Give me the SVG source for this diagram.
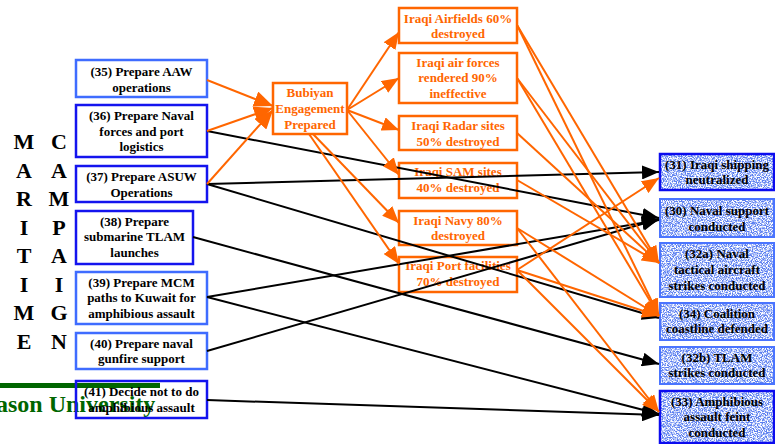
<svg xmlns="http://www.w3.org/2000/svg" width="775" height="444" viewBox="0 0 775 444">
<style>
  text { font-family: "Liberation Serif", "Times New Roman", serif; font-weight: bold; }
  .t { font-size: 13px; text-anchor: middle; fill: #000; }
  .ot { font-size: 13px; text-anchor: middle; fill: #ff6600; }
  .big { font-size: 22px; text-anchor: middle; fill: #000; }
  .lb1 { fill: none; stroke: #3f6cff; stroke-width: 2.5; }
  .lb2 { fill: none; stroke: #1414ee; stroke-width: 2.5; }
  .ob { fill: none; stroke: #ff6600; stroke-width: 2.5; }
  .rb1 { fill: none; stroke: #4a74ff; stroke-width: 2; }
  .rb2 { fill: none; stroke: #0c0cee; stroke-width: 2.5; }
  .rbase { fill: #5a7ef0; }
  .sp { filter: url(#speckle); }
  .bl { fill: none; stroke: #000; stroke-width: 2; marker-end: url(#ab); }
  .or { fill: none; stroke: #ff6600; stroke-width: 2; marker-end: url(#ao); }
  .orb { fill: none; stroke: #ff6600; stroke-width: 2; marker-end: url(#aob); }
</style>
<defs>
  <marker id="ab" markerUnits="userSpaceOnUse" markerWidth="18" markerHeight="14" refX="17" refY="7" orient="auto">
    <path d="M0,0 L17,7 L0,14 z" fill="#000"/>
  </marker>
  <marker id="ao" markerUnits="userSpaceOnUse" markerWidth="18" markerHeight="14" refX="17" refY="7" orient="auto">
    <path d="M0,0 L17,7 L0,14 z" fill="#ff6600"/>
  </marker>
  <marker id="aob" markerUnits="userSpaceOnUse" markerWidth="20" markerHeight="16" refX="19" refY="8" orient="auto">
    <path d="M0,0 L19,8 L0,16 z" fill="#ff6600"/>
  </marker>
  <filter id="speckle" x="0" y="0" width="1" height="1" color-interpolation-filters="sRGB">
    <feTurbulence type="fractalNoise" baseFrequency="0.8" numOctaves="2" seed="7"/>
    <feColorMatrix type="matrix" values="0 0 0 0 1  0 0 0 0 1  0 0 0 0 1  4 0 0 0 -1.5"/>
  </filter>
</defs>

<!-- background branding -->
<rect x="0" y="383" width="160" height="5" fill="#006600"/>
<text x="-4" y="412" style="font-size:24px;fill:#006600">ason University</text>

<!-- side letters -->
<g id="maritime">
  <text class="big" x="24" y="149">M</text>
  <text class="big" x="24" y="178">A</text>
  <text class="big" x="24" y="206">R</text>
  <text class="big" x="24" y="235">I</text>
  <text class="big" x="24" y="263">T</text>
  <text class="big" x="24" y="292">I</text>
  <text class="big" x="24" y="320">M</text>
  <text class="big" x="24" y="349">E</text>
</g>
<g id="campaign">
  <text class="big" x="59" y="149">C</text>
  <text class="big" x="59" y="178">A</text>
  <text class="big" x="59" y="206">M</text>
  <text class="big" x="59" y="235">P</text>
  <text class="big" x="59" y="263">A</text>
  <text class="big" x="59" y="292">I</text>
  <text class="big" x="59" y="320">G</text>
  <text class="big" x="59" y="349">N</text>
</g>

<!-- left column -->
<g id="n35"><rect class="lb1" x="76" y="60" width="131" height="37"/>
  <text class="t" x="141.5" y="76">(35) Prepare AAW</text><text class="t" x="141.5" y="91.5">operations</text></g>
<g id="n36"><rect class="lb2" x="76" y="105" width="131" height="52"/>
  <text class="t" x="141.5" y="120">(36) Prepare Naval</text><text class="t" x="141.5" y="135.5">forces and port</text><text class="t" x="141.5" y="151">logistics</text></g>
<g id="n37"><rect class="lb2" x="76" y="166" width="131" height="36"/>
  <text class="t" x="141.5" y="181">(37) Prepare ASUW</text><text class="t" x="141.5" y="196.5">Operations</text></g>
<g id="n38"><rect class="lb2" x="76" y="211" width="117" height="53"/>
  <text class="t" x="134.5" y="226">(38) Prepare</text><text class="t" x="134.5" y="241">submarine TLAM</text><text class="t" x="134.5" y="256.5">launches</text></g>
<g id="n39"><rect class="lb1" x="76" y="272" width="131" height="52"/>
  <text class="t" x="141.5" y="286.5">(39) Prepare MCM</text><text class="t" x="141.5" y="302">paths to Kuwait for</text><text class="t" x="141.5" y="317.5">amphibious assault</text></g>
<g id="n40"><rect class="lb1" x="76" y="333" width="131" height="36"/>
  <text class="t" x="141.5" y="347.5">(40) Prepare naval</text><text class="t" x="141.5" y="363">gunfire support</text></g>
<g id="n41"><rect class="lb2" x="76" y="381" width="131" height="37"/>
  <text class="t" x="141.5" y="396">(41) Decide not to do</text><text class="t" x="141.5" y="411.5">amphibious assault</text></g>

<!-- middle -->
<g id="bubiyan"><rect class="ob" x="273" y="83" width="74" height="51"/>
  <text class="ot" x="310" y="97">Bubiyan</text><text class="ot" x="310" y="113">Engagement</text><text class="ot" x="310" y="128.5">Prepared</text></g>

<g id="airfields"><rect class="ob" x="399" y="8" width="118" height="35"/>
  <text class="ot" x="458" y="22.5">Iraqi Airfields 60%</text><text class="ot" x="458" y="38">destroyed</text></g>
<g id="airforces"><rect class="ob" x="399" y="53" width="118" height="50"/>
  <text class="ot" x="458" y="66.5">Iraqi air forces</text><text class="ot" x="458" y="82">rendered 90%</text><text class="ot" x="458" y="97.5">ineffective</text></g>
<g id="radar"><rect class="ob" x="399" y="116" width="118" height="34"/>
  <text class="ot" x="458" y="130">Iraqi Radar sites</text><text class="ot" x="458" y="145.5">50% destroyed</text></g>
<g id="sam"><rect class="ob" x="399" y="163" width="118" height="35"/>
  <text class="ot" x="458" y="176">Iraqi SAM sites</text><text class="ot" x="458" y="192">40% destroyed</text></g>
<g id="navy"><rect class="ob" x="399" y="211" width="118" height="34"/>
  <text class="ot" x="458" y="224.5">Iraqi Navy 80%</text><text class="ot" x="458" y="240">destroyed</text></g>
<g id="port"><rect class="ob" x="399" y="257" width="118" height="35"/>
  <text class="ot" x="458" y="270">Iraqi Port facilities</text><text class="ot" x="458" y="285.5">70% destroyed</text></g>

<!-- right column -->
<g id="n31"><rect class="rbase" x="660" y="154" width="114" height="36"/><rect class="sp" x="660" y="154" width="114" height="36"/><rect class="rb2" x="660" y="154" width="114" height="36"/>
  <text class="t" x="717" y="168.5">(31) Iraqi shipping</text><text class="t" x="717" y="184">neutralized</text></g>
<g id="n30"><rect class="rbase" x="660" y="199" width="114" height="38"/><rect class="sp" x="660" y="199" width="114" height="38"/><rect class="rb1" x="660" y="199" width="114" height="38"/>
  <text class="t" x="717" y="214.5">(30) Naval support</text><text class="t" x="717" y="230.5">conducted</text></g>
<g id="n32a"><rect class="rbase" x="660" y="243" width="114" height="54"/><rect class="sp" x="660" y="243" width="114" height="54"/><rect class="rb1" x="660" y="243" width="114" height="54"/>
  <text class="t" x="717" y="258">(32a) Naval</text><text class="t" x="717" y="273.5">tactical aircraft</text><text class="t" x="717" y="289.5">strikes conducted</text></g>
<g id="n34"><rect class="rbase" x="660" y="303" width="114" height="37"/><rect class="sp" x="660" y="303" width="114" height="37"/><rect class="rb1" x="660" y="303" width="114" height="37"/>
  <text class="t" x="717" y="317.5">(34) Coalition</text><text class="t" x="717" y="333">coastline defended</text></g>
<g id="n32b"><rect class="rbase" x="660" y="347" width="114" height="37"/><rect class="sp" x="660" y="347" width="114" height="37"/><rect class="rb1" x="660" y="347" width="114" height="37"/>
  <text class="t" x="717" y="361.5">(32b) TLAM</text><text class="t" x="717" y="377">strikes conducted</text></g>
<g id="n33"><rect class="rbase" x="660" y="391" width="114" height="52"/><rect class="sp" x="660" y="391" width="114" height="52"/><rect class="rb2" x="660" y="391" width="114" height="52"/>
  <text class="t" x="717" y="405.5">(33) Amphibious</text><text class="t" x="717" y="421">assault feint</text><text class="t" x="717" y="437">conducted</text></g>

<!-- connectors -->
<g id="connectors">
  <path class="bl" d="M207,131 L659,218"/>
  <path class="bl" d="M207,184 L659,172"/>
  <path class="bl" d="M207,184 L659,318"/>
  <path class="bl" d="M193,237 L659,364"/>
  <path class="bl" d="M207,297 L659,220"/>
  <path class="bl" d="M207,297 L659,414"/>
  <path class="bl" d="M207,351 L659,219"/>
  <path class="bl" d="M207,400 L659,415"/>

  <path class="orb" d="M207,80 L273,106"/>
  <path class="orb" d="M207,131 L273,108"/>
  <path class="orb" d="M207,184 L273,110"/>

  <path class="or" d="M347,110 L399,32"/>
  <path class="or" d="M347,110 L399,78"/>
  <path class="or" d="M347,110 L399,130"/>
  <path class="or" d="M347,110 L399,175"/>
  <path class="or" d="M313,134 L399,223"/>
  <path class="or" d="M309,134 L399,264"/>

  <path class="or" d="M517,25 L659,263"/>
  <path class="or" d="M517,25 L659,316"/>
  <path class="or" d="M517,78 L659,263"/>
  <path class="or" d="M517,78 L659,316"/>
  <path class="or" d="M517,133 L659,263"/>
  <path class="or" d="M517,180 L659,263"/>
  <path class="or" d="M517,228 L659,316"/>
  <path class="or" d="M517,228 L659,412"/>
  <path class="or" d="M517,270 L659,178"/>
  <path class="or" d="M517,270 L659,316"/>
  <path class="or" d="M517,270 L659,412"/>
</g>
</svg>
